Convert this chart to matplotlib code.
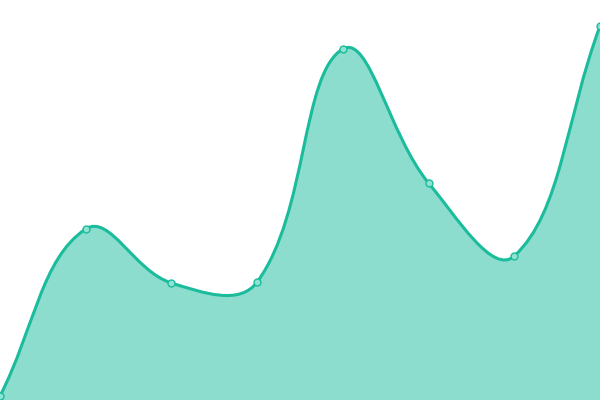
import matplotlib
matplotlib.use("Agg")
import matplotlib.pyplot as plt
from matplotlib.path import Path
from matplotlib.patches import PathPatch

values = [4, 171, 117, 118, 351, 217, 144, 374]
line_color = "#1abc9c"
tension = 0.4

W, H = 600, 400
fig = plt.figure(figsize=(6, 4), dpi=100)
ax = fig.add_axes([0, 0, 1, 1])
n = len(values)
xs = list(range(n))
ax.set_xlim(0, n - 1)
ax.set_ylim(0, H)
ax.axis("off")

# spline control points in pixel space, then back to data units
sx = W / (n - 1)
pts = [(i * sx, v) for i, v in enumerate(values)]

def clamp(p):
    return (min(max(p[0], 0), W), min(max(p[1], 0), H))

ctrl = []
for i, p in enumerate(pts):
    p0 = pts[i - 1] if i > 0 else p
    p2 = pts[i + 1] if i < n - 1 else p
    d01 = ((p[0] - p0[0]) ** 2 + (p[1] - p0[1]) ** 2) ** 0.5
    d12 = ((p2[0] - p[0]) ** 2 + (p2[1] - p[1]) ** 2) ** 0.5
    tot = d01 + d12 if d01 + d12 else 1
    fa = tension * d01 / tot
    fb = tension * d12 / tot
    prev = clamp((p[0] - fa * (p2[0] - p0[0]), p[1] - fa * (p2[1] - p0[1])))
    nxt = clamp((p[0] + fb * (p2[0] - p0[0]), p[1] + fb * (p2[1] - p0[1])))
    ctrl.append((prev, nxt))

def to_data(p):
    return (p[0] / sx, p[1])

verts = [to_data(pts[0])]
codes = [Path.MOVETO]
for i in range(n - 1):
    verts += [to_data(ctrl[i][1]), to_data(ctrl[i + 1][0]), to_data(pts[i + 1])]
    codes += [Path.CURVE4] * 3

fill_verts = verts + [(xs[-1], 0), (xs[0], 0), verts[0]]
fill_codes = codes + [Path.LINETO, Path.LINETO, Path.CLOSEPOLY]
ax.add_patch(PathPatch(Path(fill_verts, fill_codes), facecolor=line_color,
                       alpha=0.5, edgecolor="none"))
ax.add_patch(PathPatch(Path(verts, codes), facecolor="none",
                       edgecolor=line_color, linewidth=2.2))

ax.plot(xs, values, linestyle="none", marker="o", markersize=5,
        markerfacecolor="#8fe3d3", markeredgecolor=line_color,
        markeredgewidth=1, clip_on=False)

fig.savefig("out.png", dpi=100)
